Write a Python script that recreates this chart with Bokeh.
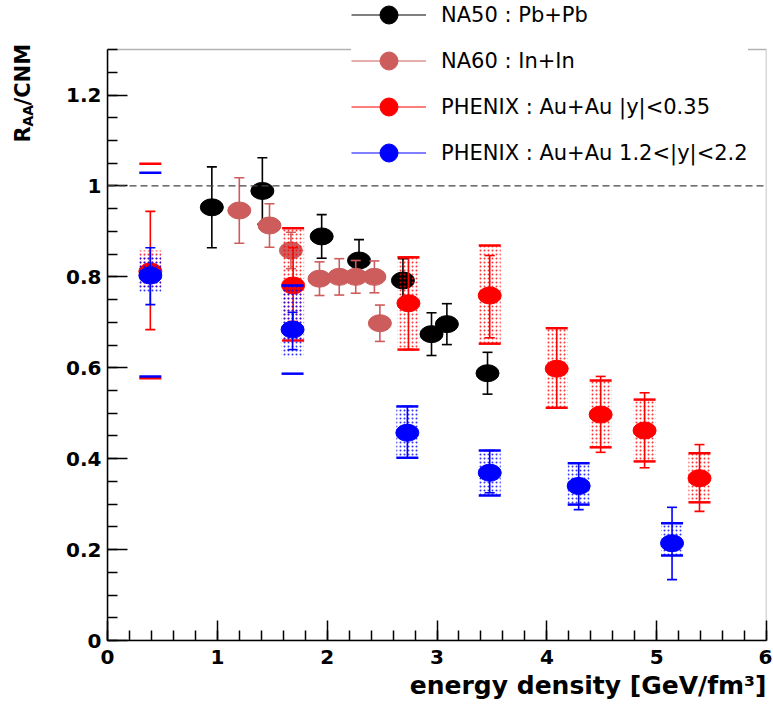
import math
from bokeh.plotting import figure
from bokeh.layouts import row
from bokeh.models import (ColumnDataSource, Range1d, FixedTicker, CustomJSTickFormatter,
                          Span, Label, Legend, LegendItem, BoxAnnotation, Title)
from bokeh.embed import file_html
from bokeh.resources import INLINE

# ---------------- data ----------------
# NA50 : Pb+Pb
na50_x = [0.95, 1.41, 1.95, 2.29, 2.69, 2.95, 3.09, 3.46]
na50_y = [0.953, 0.989, 0.889, 0.836, 0.792, 0.674, 0.696, 0.588]
na50_err = [0.089, 0.073, 0.048, 0.046, 0.048, 0.047, 0.045, 0.046]

# NA60 : In+In
na60_x = [1.20, 1.475, 1.67, 1.93, 2.11, 2.26, 2.43, 2.48]
na60_y = [0.946, 0.913, 0.858, 0.796, 0.800, 0.800, 0.800, 0.698]
na60_err = [0.072, 0.048, 0.040, 0.037, 0.040, 0.036, 0.035, 0.040]

# PHENIX : Au+Au |y|<0.35
phm_x = [0.39, 1.69, 2.74, 3.48, 4.09, 4.49, 4.89, 5.39]
phm_y = [0.812, 0.781, 0.742, 0.759, 0.598, 0.497, 0.462, 0.357]
phm_stat_lo = [0.684, 0.702, 0.640, 0.666, 0.512, 0.414, 0.380, 0.284]
phm_stat_hi = [0.944, 0.864, 0.843, 0.847, 0.687, 0.581, 0.545, 0.431]
phm_box_lo = [0.777, 0.660, 0.640, 0.653, 0.512, 0.425, 0.394, 0.304]
phm_box_hi = [0.858, 0.907, 0.843, 0.869, 0.687, 0.572, 0.530, 0.412]
phm_brk_lo = [0.577, 0.660, 0.640, 0.653, 0.512, 0.425, 0.394, 0.304]
phm_brk_hi = [1.049, 0.907, 0.843, 0.869, 0.687, 0.572, 0.530, 0.412]

# PHENIX : Au+Au 1.2<|y|<2.2
phf_x = [0.39, 1.685, 2.73, 3.48, 4.29, 5.14]
phf_y = [0.803, 0.684, 0.457, 0.369, 0.340, 0.214]
phf_stat_lo = [0.739, 0.640, 0.402, 0.325, 0.288, 0.134]
phf_stat_hi = [0.864, 0.722, 0.515, 0.418, 0.390, 0.293]
phf_box_lo = [0.766, 0.623, 0.402, 0.319, 0.299, 0.187]
phf_box_hi = [0.847, 0.781, 0.515, 0.418, 0.390, 0.258]
phf_brk_lo = [0.581, 0.587, 0.402, 0.319, 0.299, 0.187]
phf_brk_hi = [1.029, 0.781, 0.515, 0.418, 0.390, 0.258]

legend_labels = ["NA50 : Pb+Pb", "NA60 : In+In",
                 "PHENIX : Au+Au |y|<0.35", "PHENIX : Au+Au 1.2<|y|<2.2"]
colors = ["#000000", "#cd5c5c", "#ff0000", "#0000ff"]

x_major = [0, 1, 2, 3, 4, 5, 6]
y_major = [0, 0.2, 0.4, 0.6, 0.8, 1.0, 1.2]

x_title = "energy density [GeV/fm³]"
y_title_parts = ["R", "AA", "/CNM"]

BOLD = "DejaVu Sans"
H = 706
TW = 50  # width of the strip that carries the y title

# ---------------- main figure ----------------
p = figure(width=772 - TW, height=H, output_backend="svg", toolbar_location=None,
           x_range=Range1d(0, 6), y_range=Range1d(0, 1.408),
           min_border_left=107 - TW, min_border_right=6, min_border_top=0, min_border_bottom=66)
p.outline_line_color = None
p.xgrid.visible = False
p.ygrid.visible = False
p.background_fill_color = "white"
p.border_fill_color = "white"

# frame box (top at 1.3, legend overlaps it)
p.add_layout(BoxAnnotation(left=0, right=6, bottom=0, top=1.3, fill_alpha=0,
                           line_color="black", line_width=1.5))
p.add_layout(Span(location=1.0, dimension="width", line_color="#444444",
                  line_dash="7 4", line_width=1.2))

for ax in (p.xaxis[0], p.yaxis[0]):
    ax.axis_line_width = 1.5
    ax.major_tick_line_width = 1.5
    ax.minor_tick_line_width = 1.5
    ax.major_tick_in = 20
    ax.major_tick_out = 0
    ax.minor_tick_in = 10
    ax.minor_tick_out = 0
    ax.major_label_text_font = BOLD
    ax.major_label_text_font_style = "bold"
    ax.major_label_text_font_size = "20px"
    ax.major_label_text_color = "black"

p.xaxis[0].ticker = FixedTicker(ticks=x_major, minor_ticks=[round(0.2 * i, 1) for i in range(31)])
p.yaxis[0].ticker = FixedTicker(ticks=y_major, minor_ticks=[round(0.05 * i, 2) for i in range(27)])
p.yaxis[0].bounds = (0, 1.3)
p.xaxis[0].major_label_standoff = 9
p.yaxis[0].major_label_standoff = 6
fmt = CustomJSTickFormatter(code="return String(Math.round(tick*10)/10);")
p.xaxis[0].formatter = fmt
p.yaxis[0].formatter = fmt

# x axis title, right-aligned under the frame
p.add_layout(Title(text=x_title, align="right", text_font=BOLD, text_font_style="bold",
                   text_font_size="25px", text_color="black", standoff=4), "below")

MW, MH = 23, 17  # marker ellipse size (screen px)


def draw_series(xs, ys, lo, hi, color, box_lo=None, box_hi=None, brk_lo=None, brk_hi=None):
    if box_lo is not None:
        bsrc = ColumnDataSource(dict(x=xs, y=[(a + b) / 2 for a, b in zip(box_lo, box_hi)],
                                     h=[b - a for a, b in zip(box_lo, box_hi)]))
        p.rect("x", "y", width=22, height="h", width_units="screen", source=bsrc,
               fill_color=None, line_color=None, hatch_pattern="dot", hatch_color=color,
               hatch_scale=4, hatch_weight=1.3, hatch_alpha=0.8)
        p.scatter(xs, brk_lo, marker="dash", size=22, line_color=color, line_width=2.5)
        p.scatter(xs, brk_hi, marker="dash", size=22, line_color=color, line_width=2.5)
    p.segment(xs, lo, xs, hi, line_color=color, line_width=1.6)
    p.scatter(xs, lo, marker="dash", size=10, line_color=color, line_width=1.6)
    p.scatter(xs, hi, marker="dash", size=10, line_color=color, line_width=1.6)
    p.ellipse(xs, ys, width=MW, height=MH, width_units="screen", height_units="screen",
              fill_color=color, line_color=color)


draw_series(na50_x, na50_y, [y - e for y, e in zip(na50_y, na50_err)],
            [y + e for y, e in zip(na50_y, na50_err)], colors[0])
draw_series(na60_x, na60_y, [y - e for y, e in zip(na60_y, na60_err)],
            [y + e for y, e in zip(na60_y, na60_err)], colors[1])
draw_series(phm_x, phm_y, phm_stat_lo, phm_stat_hi, colors[2],
            phm_box_lo, phm_box_hi, phm_brk_lo, phm_brk_hi)
draw_series(phf_x, phf_y, phf_stat_lo, phf_stat_hi, colors[3],
            phf_box_lo, phf_box_hi, phf_brk_lo, phf_brk_hi)

# legend: hidden renderers on the series data, used only for the legend glyphs
items = []
for lab, c, sx, sy in zip(legend_labels, colors, [na50_x, na60_x, phm_x, phf_x],
                          [na50_y, na60_y, phm_y, phf_y]):
    lr = p.line(sx, sy, line_color=c, line_width=1.2, visible=False)
    sr = p.scatter(sx, sy, marker="circle", size=18, fill_color=c, line_color=c, visible=False)
    items.append(LegendItem(label=lab, renderers=[lr, sr], index=0))
legend = Legend(items=items, location=(244, 465), orientation="vertical",
                glyph_width=75, glyph_height=45, label_height=45, spacing=1,
                padding=5, margin=0, label_standoff=15,
                label_text_font="DejaVu Sans", label_text_font_size="21px",
                label_text_color="black",
                border_line_color=None, background_fill_color="white",
                background_fill_alpha=1.0, inactive_fill_alpha=0.0)
p.add_layout(legend)

# ---------------- strip with the rotated y title R_AA/CNM ----------------
# (its frame is aligned with the main frame by the row layout)
t = figure(width=TW, height=H, output_backend="svg", toolbar_location=None,
           x_range=Range1d(0, 1), y_range=Range1d(0, 1),
           x_axis_location=None, y_axis_location=None,
           min_border_left=0, min_border_right=0, min_border_top=0, min_border_bottom=0)
t.outline_line_color = None
t.xgrid.visible = False
t.ygrid.visible = False
t.border_fill_color = "white"
ang = math.pi / 2
for txt, dx, dy, fs in zip(y_title_parts, [22, 27, 22], [498, 514, 535], ["21px", "14px", "21px"]):
    t.add_layout(Label(x=dx, y=dy, x_units="screen", y_units="screen", angle=ang,
                       text=txt, text_align="left", text_baseline="alphabetic",
                       text_font=BOLD, text_font_style="bold", text_font_size=fs,
                       text_color="black"))

layout = row(t, p)
open("out.html", "w").write(file_html(layout, INLINE))
